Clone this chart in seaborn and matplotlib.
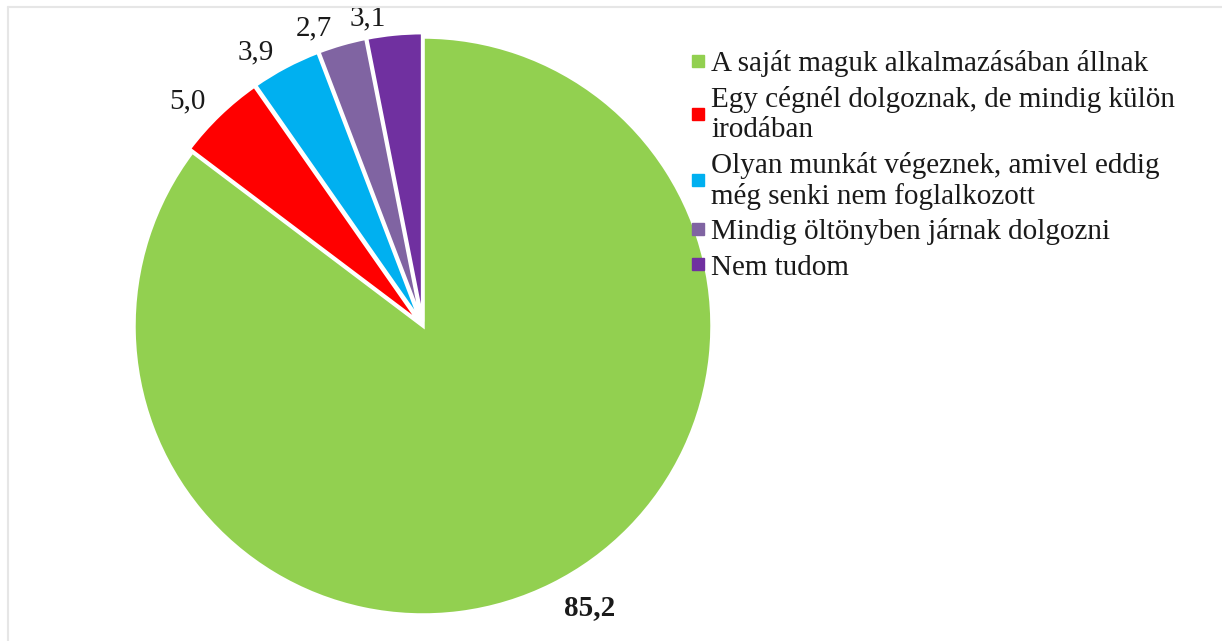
import matplotlib
matplotlib.use("Agg")
import matplotlib.pyplot as plt
import matplotlib.transforms as mtransforms
import seaborn as sns
from matplotlib.lines import Line2D

# -----------------------------
# Data
# -----------------------------
categories = [
    "A saját maguk alkalmazásában állnak",
    "Egy cégnél dolgoznak, de mindig külön\nirodában",
    "Olyan munkát végeznek, amivel eddig\nmég senki nem foglalkozott",
    "Mindig öltönyben járnak dolgozni",
    "Nem tudom",
]
values = [85.2, 5.0, 3.9, 2.7, 3.1]
colors = ["#92D050", "#FF0000", "#00B0F0", "#8064A2", "#7030A0"]

sns.set_style("white")
plt.rcParams["font.family"] = ["Liberation Serif", "DejaVu Serif"]

W, H = 1222, 641
fig = plt.figure(figsize=(W / 100, H / 100), dpi=100)

# pie centre / radius in pixels
cx, cy, r = 423, 326, 289
half = 1.25 * r
ax = fig.add_axes([(cx - half) / W, (H - cy - half) / H, 2 * half / W, 2 * half / H])

total = sum(values)
wedges, texts, autotexts = ax.pie(
    values,
    colors=colors,
    startangle=90,
    counterclock=False,
    explode=[0, 0.015, 0.015, 0.015, 0.015],
    autopct=lambda p: f"{p * total / 100:.1f}".replace(".", ","),
    pctdistance=1.03,
    wedgeprops=dict(edgecolor="white", linewidth=2.5),
    textprops=dict(fontsize=21, color="#1a1a1a"),
)
# "outside end" style labels: anchor the corner nearest the pie,
# nudged a little sideways away from the centre
for t in autotexts:
    x, y = t.get_position()
    t.set_ha("left" if x > 0 else "right")
    t.set_va("baseline" if y > 0 else "top")
    dx = 8 if x > 0 else -8
    dy = -2 if y < 0 else 0
    t.set_transform(mtransforms.offset_copy(ax.transData, fig=fig, x=dx, y=dy, units="dots"))
    t.set_clip_on(False)
autotexts[0].set_fontweight("bold")

ax.set_xlim(-1.25, 1.25)
ax.set_ylim(-1.25, 1.25)
ax.set_aspect("equal")
ax.axis("off")

# legend with small square markers
handles = [Line2D([0], [0], marker="s", linestyle="", markersize=8,
                  markerfacecolor=c, markeredgecolor=c) for c in colors]
leg = fig.legend(handles, categories, loc="upper left",
                 bbox_to_anchor=(690 / W, 1 - 50 / H),
                 frameon=False, fontsize=21, handlelength=0.55,
                 handletextpad=0.18, labelspacing=0.3, borderpad=0,
                 borderaxespad=0, labelcolor="#1a1a1a")
for t in leg.get_texts():
    t.set_linespacing(1.2)

# faint frame lines (top and left)
fig.add_artist(Line2D([8 / W, 1], [1 - 7 / H, 1 - 7 / H], color="#e6e6e6", lw=1.5))
fig.add_artist(Line2D([8 / W, 8 / W], [0, 1 - 7 / H], color="#e6e6e6", lw=1.5))

fig.savefig("out.png", dpi=100)
